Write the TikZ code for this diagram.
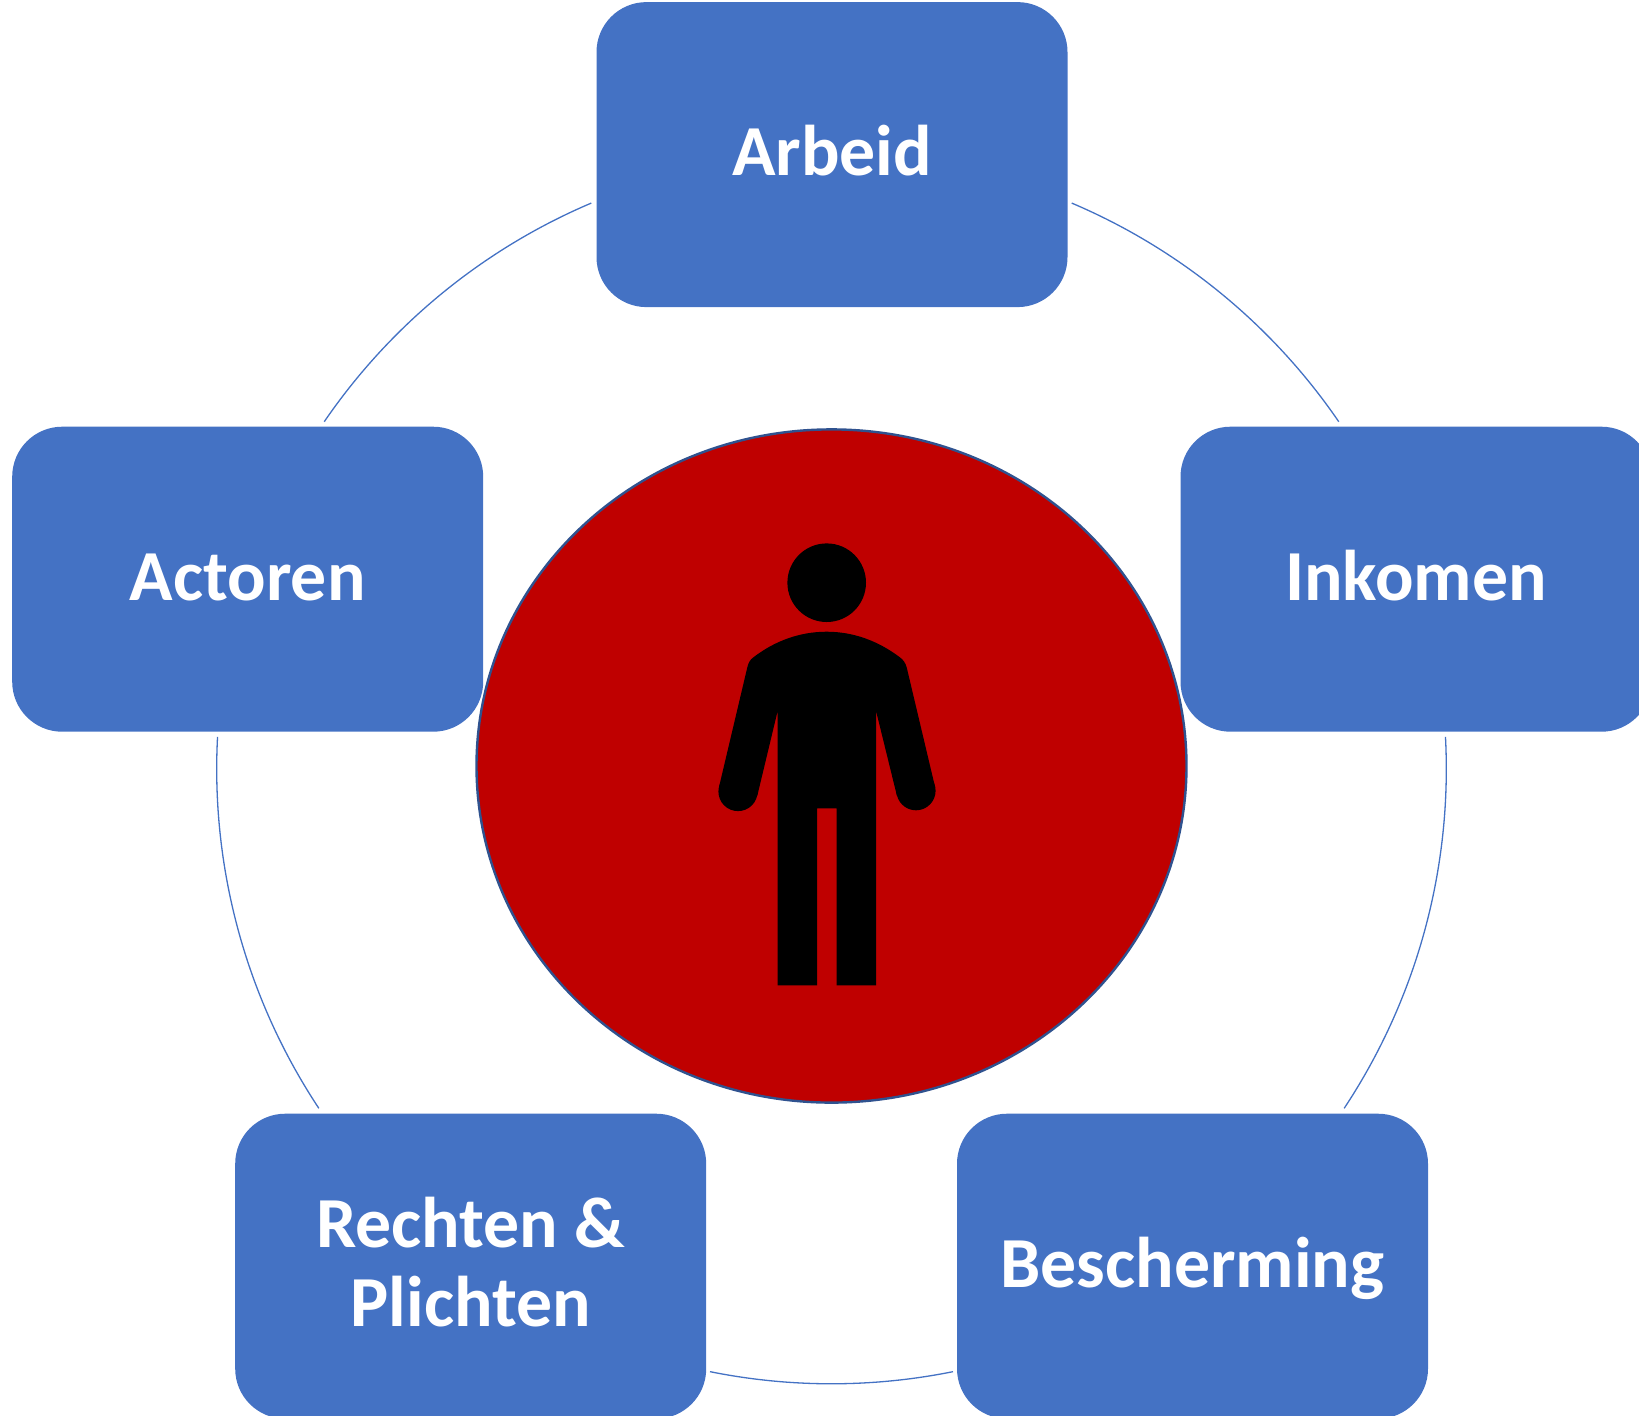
\documentclass[tikz,border=0pt]{standalone}
\usepackage{fontspec}
\setmainfont{Carlito}
\usetikzlibrary{shapes.geometric}
\definecolor{boxblue}{HTML}{4472C4}
\definecolor{rimblue}{HTML}{2F528F}
\definecolor{discred}{HTML}{BF0000}
\newcommand{\boxline}[1]{\raisebox{-10.4pt}[0pt][0pt]{#1}}
\tikzset{
  topicbox/.style={draw=none,fill=boxblue,rounded corners=25pt,minimum width=235.5pt,minimum height=152.5pt,inner sep=0pt,align=center,text=white,font=\fontsize{35.9}{39.1}\selectfont\bfseries},
  ring/.style={draw=boxblue,line width=0.65pt},
  disc/.style={ellipse,draw=rimblue,line width=1.2pt,fill=discred,minimum width=355pt,minimum height=336.6pt,inner sep=0pt},
  figure/.style={fill=black,draw=none}
}
\begin{document}
\begin{tikzpicture}[x=0.5pt,y=-0.5pt]
\useasboundingbox (0,0) rectangle (1639,1415);
\clip (0,0) rectangle (1639,1415);
\coordinate (c) at (831.5,769);
% ring arc ends
\coordinate (a1) at ([shift={(c)}]-67:614.8);
\coordinate (a2) at ([shift={(c)}]-3:614.8);
\coordinate (a3) at ([shift={(c)}]78.6:614.8);
\coordinate (a4) at ([shift={(c)}]146.5:614.8);
\coordinate (a5) at ([shift={(c)}]214.4:614.8);
\draw[ring] (a1) arc[start angle=-67,end angle=-34.4,radius=614.8];
\draw[ring] (a2) arc[start angle=-3,end angle=33.5,radius=614.8];
\draw[ring] (a3) arc[start angle=78.6,end angle=101.4,radius=614.8];
\draw[ring] (a4) arc[start angle=146.5,end angle=183,radius=614.8];
\draw[ring] (a5) arc[start angle=214.4,end angle=247,radius=614.8];
% disc
\node[disc] (centre) at (831.5,766) {};
% boxes
\node[topicbox] (arbeid) at (832,154.6) {\boxline{Arbeid}};
\node[topicbox] (inkomen) at (1416,579.2) {\boxline{Inkomen}};
\node[topicbox] (actoren) at (247.7,579.2) {\boxline{Actoren}};
\node[topicbox] (rechten) at (470.7,1266.2) {\boxline{Rechten \&}\\\boxline{Plichten}};
\node[topicbox] (bescherming) at (1192.5,1266.2) {\boxline{Bescherming}};
% person
\begin{scope}[yshift=-0.35pt]
\fill[figure] (826.7,582) circle[radius=39.3];
\fill[figure] (738,790.8) circle[radius=19.6];
\fill[figure] (916,790) circle[radius=19.6];
\fill[figure] (777.7,984.7) -- (777.7,710) -- (757.3,795)
  -- (738,790.8) -- (719,786.3)
  -- (747.3,666.7)
  .. controls (748.5,662) and (750,659) .. (753.3,656.7)
  .. controls (775,640) and (800,631) .. (826.7,631)
  .. controls (853,631) and (878,640) .. (900,656.7)
  .. controls (903,659) and (905.5,662) .. (906.7,666.7)
  -- (935,786)
  -- (916,790) -- (896.9,795)
  -- (876,710) -- (876,984.7) -- (836.7,984.7) -- (836.7,807.7)
  -- (817,807.7) -- (817,984.7) -- cycle;
\end{scope}
\end{tikzpicture}
\end{document}
